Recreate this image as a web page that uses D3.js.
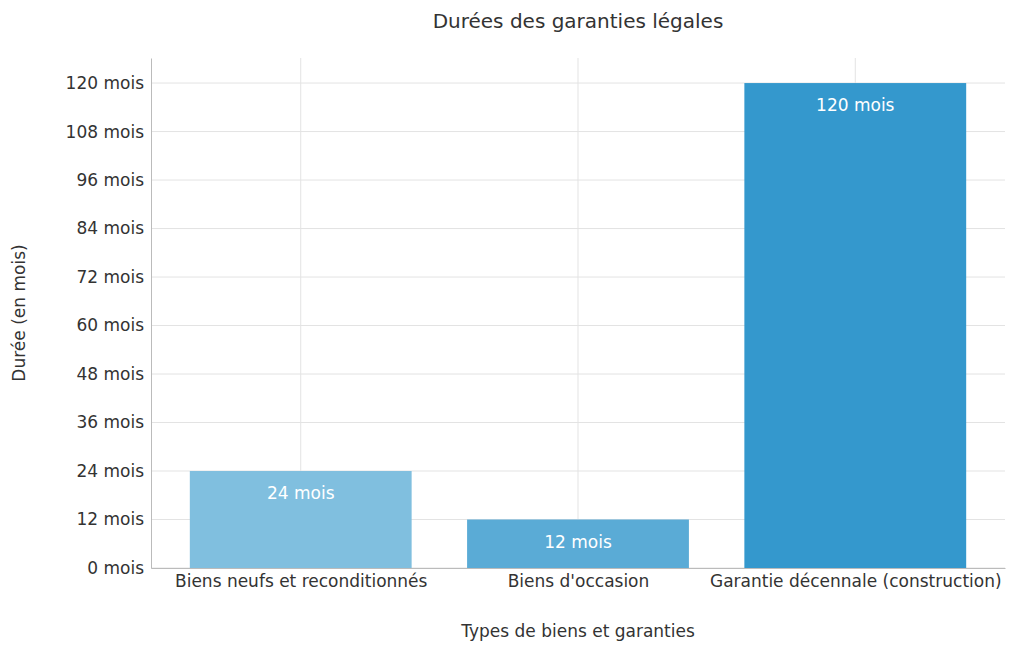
<!DOCTYPE html>
<html><head><meta charset="utf-8">
<script src="https://cdn.jsdelivr.net/npm/d3@7"></script>
<style>body{margin:0;background:#fff}text{font-family:"DejaVu Sans",sans-serif;fill:#333}</style>
</head><body><svg id="c" width="1024" height="652"></svg>
<script>
const categories = ["Biens neufs et reconditionnés", "Biens d'occasion", "Garantie décennale (construction)"];
const values = [24, 12, 120];
const barLabels = ["24 mois", "12 mois", "120 mois"];
const yTicks = [0, 12, 24, 36, 48, 60, 72, 84, 96, 108, 120];
const colors = ["#80bfdf", "#5aabd6", "#3498cd"];

const svg = d3.select("#c");
const L = 151, R = 1005, T = 58, B = 568;
const x = d3.scaleLinear().domain([-0.54, 2.54]).range([L, R]);
const y = d3.scaleLinear().domain([0, 126.2]).range([B, T]);
const bw = x(0.4) - x(-0.4);

const g = svg.append("g");
// grid
g.selectAll(".hg").data(yTicks).join("line")
  .attr("x1", L).attr("x2", R).attr("y1", d => y(d)).attr("y2", d => y(d))
  .attr("stroke", "#e3e3e3").attr("stroke-width", 1);
g.selectAll(".vg").data(categories).join("line")
  .attr("x1", (d, i) => x(i)).attr("x2", (d, i) => x(i)).attr("y1", T).attr("y2", B)
  .attr("stroke", "#e3e3e3").attr("stroke-width", 1);
// bars
g.selectAll(".bar").data(values).join("rect")
  .attr("x", (d, i) => x(i) - bw / 2).attr("width", bw)
  .attr("y", d => y(d)).attr("height", d => B - y(d))
  .attr("fill", (d, i) => colors[i]);
g.selectAll(".bl").data(values).join("text")
  .attr("x", (d, i) => x(i)).attr("y", d => y(d) + 28)
  .attr("text-anchor", "middle").attr("font-size", 17)
  .style("fill", "#fff").text((d, i) => barLabels[i]);
// axes
const ya = d3.axisLeft(y).tickValues(yTicks).tickFormat(d => d + " mois").tickSize(0).tickPadding(7);
const yg = svg.append("g").attr("transform", `translate(${L},0)`).call(ya);
const xa = d3.axisBottom(x).tickValues([0, 1, 2]).tickFormat(i => categories[i]).tickSize(0).tickPadding(7);
const xg = svg.append("g").attr("transform", `translate(0,${B})`).call(xa);
[yg, xg].forEach(a => {
  a.selectAll("text").attr("font-size", 17).style("font-family", "DejaVu Sans").style("fill", "#333");
  a.select(".domain").attr("stroke", "#bbb");
});
svg.append("text").attr("x", 578).attr("y", 28).attr("text-anchor", "middle").attr("font-size", 20).text("Durées des garanties légales");
svg.append("text").attr("x", 578).attr("y", 637).attr("text-anchor", "middle").attr("font-size", 17).text("Types de biens et garanties");
svg.append("text").attr("transform", "translate(25,313) rotate(-90)").attr("text-anchor", "middle").attr("font-size", 17).text("Durée (en mois)");
</script></body></html>
